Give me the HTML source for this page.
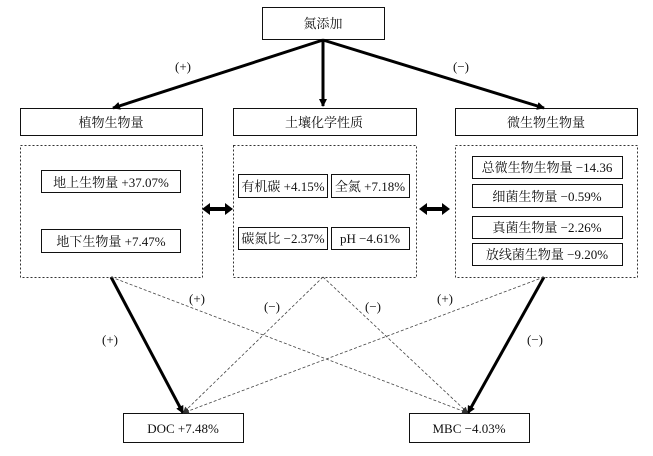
<!DOCTYPE html>
<html><head><meta charset="utf-8"><style>
body{margin:0;background:#fff;width:653px;height:451px;overflow:hidden}
svg text{font-family:"Liberation Serif","Noto Serif CJK SC",serif;font-size:13px;fill:#111}
</style></head><body>
<svg width="653" height="451" xmlns="http://www.w3.org/2000/svg">
<defs>
<marker id="a" markerWidth="8" markerHeight="8" refX="7" refY="4" orient="auto" markerUnits="userSpaceOnUse"><path d="M0,0L8,4L0,8z" fill="#000"/></marker>
<marker id="s" markerWidth="6" markerHeight="6" refX="6" refY="3" orient="auto" markerUnits="userSpaceOnUse"><path d="M0,0L6,3L0,6z" fill="#333"/></marker>
</defs>
<g fill="none" stroke="#111" stroke-width="1">
<rect x="262.5" y="7.5" width="122" height="32"/>
<rect x="20.5" y="108.5" width="182" height="27"/>
<rect x="233.5" y="108.5" width="183" height="27"/>
<rect x="455.5" y="108.5" width="182" height="27"/>
<g stroke-dasharray="2,2" stroke="#333">
<rect x="20.5" y="145.5" width="182" height="132"/>
<rect x="233.5" y="145.5" width="183" height="132"/>
<rect x="455.5" y="145.5" width="182" height="132"/>
</g>
<rect x="41.5" y="170.5" width="139" height="22"/>
<rect x="41.5" y="229.5" width="139" height="23"/>
<rect x="238.5" y="174.5" width="89" height="23"/>
<rect x="331.5" y="174.5" width="78" height="23"/>
<rect x="238.5" y="227.5" width="89" height="22"/>
<rect x="331.5" y="227.5" width="78" height="22"/>
<rect x="472.5" y="156.5" width="150" height="22"/>
<rect x="472.5" y="184.5" width="150" height="23"/>
<rect x="472.5" y="216.5" width="150" height="22"/>
<rect x="472.5" y="243.5" width="150" height="22"/>
<rect x="123.5" y="413.5" width="120" height="29"/>
<rect x="409.5" y="413.5" width="120" height="29"/>
</g>
<g stroke="#000" stroke-width="3">
<line x1="323" y1="40" x2="113" y2="108" marker-end="url(#a)"/>
<line x1="323" y1="40" x2="323" y2="106" marker-end="url(#a)"/>
<line x1="323" y1="40" x2="544" y2="108" marker-end="url(#a)"/>
<line x1="111" y1="277" x2="183" y2="413" marker-end="url(#a)"/>
<line x1="544" y1="277" x2="468" y2="413" marker-end="url(#a)"/>
</g>
<g stroke="#444" stroke-width="0.8" stroke-dasharray="3,2">
<line x1="111" y1="277" x2="468" y2="413" marker-end="url(#s)"/>
<line x1="323" y1="277" x2="183" y2="413" marker-end="url(#s)"/>
<line x1="323" y1="277" x2="468" y2="413" marker-end="url(#s)"/>
<line x1="544" y1="277" x2="183" y2="413" marker-end="url(#s)"/>
</g>
<path d="M202,209l8,-6v4h15v-4l8,6l-8,6v-4h-15v4z" fill="#000"/>
<path d="M419,209l8,-6v4h15v-4l8,6l-8,6v-4h-15v4z" fill="#000"/>
<g text-anchor="middle">
<text x="323" y="28">氮添加</text>
<text x="111" y="127">植物生物量</text>
<text x="324" y="127">土壤化学性质</text>
<text x="546" y="127">微生物生物量</text>
<text x="111" y="187">地上生物量 +37.07%</text>
<text x="111" y="246">地下生物量 +7.47%</text>
<text x="283" y="191">有机碳 +4.15%</text>
<text x="370" y="191">全氮 +7.18%</text>
<text x="283" y="243">碳氮比 −2.37%</text>
<text x="370" y="243">pH −4.61%</text>
<text x="547" y="172">总微生物生物量 −14.36</text>
<text x="547" y="201">细菌生物量 −0.59%</text>
<text x="547" y="232">真菌生物量 −2.26%</text>
<text x="547" y="259">放线菌生物量 −9.20%</text>
<text x="183" y="433">DOC +7.48%</text>
<text x="469" y="433">MBC −4.03%</text>
<text x="183" y="71" font-size="11">(+)</text>
<text x="461" y="71" font-size="11">(−)</text>
<text x="197" y="303" font-size="11">(+)</text>
<text x="272" y="311" font-size="11">(−)</text>
<text x="373" y="311" font-size="11">(−)</text>
<text x="445" y="303" font-size="11">(+)</text>
<text x="110" y="344" font-size="11">(+)</text>
<text x="535" y="344" font-size="11">(−)</text>
</g>
</svg>
</body></html>
